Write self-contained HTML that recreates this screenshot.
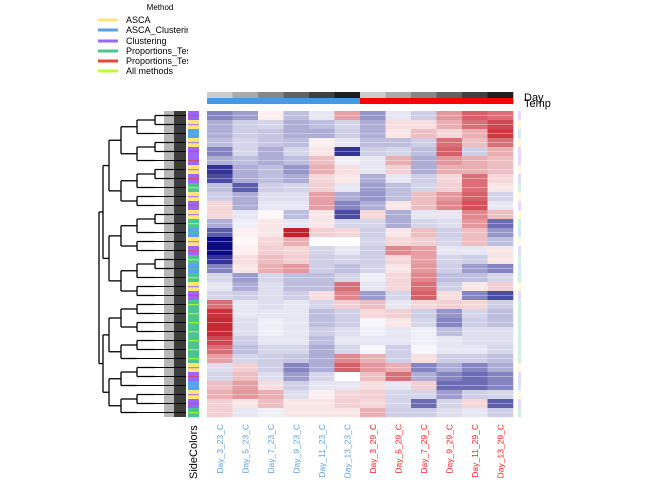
<!DOCTYPE html>
<html><head><meta charset="utf-8">
<style>
body{margin:0;background:#fff;}
svg{display:block;font-family:"Liberation Sans",sans-serif;}
</style></head>
<body>
<svg id="chart" width="672" height="480" viewBox="0 0 672 480" xmlns="http://www.w3.org/2000/svg">
<g id="legend">
<text x="160" y="10" font-size="8" text-anchor="middle">Method</text>
</g>
<g id="topbars"></g>
<text x="524" y="101" font-size="11">Day</text>
<text x="524" y="107" font-size="11">Temp</text>
<g id="dendro"></g>
<g id="side"></g>
<g id="cells"></g>
<g id="faint"></g>
<g id="xlabels"></g>
<text transform="translate(197,479) rotate(-90)" font-size="11">SideColors</text>
</svg>
<script>
const columns=["Day_3_23_C","Day_5_23_C","Day_7_23_C","Day_9_23_C","Day_11_23_C","Day_13_23_C","Day_3_29_C","Day_5_29_C","Day_7_29_C","Day_9_29_C","Day_11_29_C","Day_13_29_C"];
const dayShades=["#cccccc","#aaaaaa","#878787","#626262","#404040","#1e1e1e","#cccccc","#aaaaaa","#878787","#626262","#404040","#1e1e1e"];
const tempGroup=[0,0,0,0,0,0,1,1,1,1,1,1];
const methods=["ASCA","ASCA_Clustering","Clustering","Proportions_Test","Proportions_Test","All methods"];
const methodColors=["#ffe47a","#5aa0f0","#9a66ff","#4cc492","#e8483a","#b8ff2e"];
const sideCat=[2,0,1,0,2,2,0,2,3,0,2,0,3,1,0,2,3,1,3,0,2,3,3,3,3,3,3,3,0,2,1,0,2,3];
const c0=[-1.5,-1,-1,-0.8,-1.5,-1,-2.5,-2.2,-0.8,-0.6,0.5,0.5,-1,-2,-3,-3,-2.5,-1.5,-0.5,-0.3,-0.5,1.8,2.6,2.7,2.7,2.3,1.8,1.2,-0.4,-0.5,0.8,1,0.6,0.6];
const c1=[-1.2,-0.6,-0.6,-0.5,-0.5,-0.8,-1,-1,-2,-1,-1,-0.3,-0.2,0.2,0.1,0.2,0.4,0.3,-1.2,-1,-0.6,-0.3,-0.3,-0.4,-0.4,-0.6,-0.8,-0.5,0.6,0.8,1.2,1.3,0.3,-0.3];
const c2=[0.2,-0.5,-0.7,-0.7,-1,-1,-0.8,-0.8,-0.6,-0.4,-0.3,0.1,0.3,0.3,0.5,0.6,0.8,1,-0.5,-0.4,-0.4,-0.4,-0.3,-0.2,-0.2,-0.3,-0.5,-0.6,-0.6,-0.4,0.4,1,0.8,-0.2];
const c3=[-0.8,-1,-1,-0.8,-0.5,-0.8,-1.3,-1,-0.5,-0.4,-0.3,-0.8,-0.3,2.8,1,0.5,0.6,1.3,-0.8,-0.8,-0.6,-0.3,-0.3,-0.3,-0.3,-0.3,-0.5,-0.7,-1.5,-1.2,-0.6,-0.4,0.3,0.3];
const c4=[-0.3,-0.8,-1,0.2,0.3,0.8,1,0.5,0.6,1.2,1.2,0.3,0.3,0.6,0,-0.5,-0.6,-0.6,-0.8,-0.8,0.4,-0.5,-0.8,-0.8,-0.6,-0.8,-1,-1,-1,-0.5,-0.3,0.2,0.3,0.3];
const c5=[1.2,-0.5,-0.6,-0.3,-2.5,-0.2,0.4,0.3,-0.3,-1,-1.5,-2.2,-0.5,0.5,0,-0.3,-0.5,-0.8,-0.5,1.8,1.5,0.6,-0.6,-0.6,-0.4,-0.3,-0.5,1.5,2,0,-0.3,0.5,0.6,0.3];
const c6=[-1.3,-1,-1,-0.8,-0.6,-0.3,-0.3,-1,-1.2,-1.3,-1,0.5,-0.5,-0.6,-0.5,-0.6,-0.6,-0.5,-0.2,-0.3,-1.2,0.8,0.5,-0.1,-0.2,-0.3,-0.1,1,1.3,0.8,0.4,0.6,0.5,1];
const c7=[-0.3,0.4,0.3,-0.8,-0.5,1,0.6,-0.3,-0.8,-0.8,0.3,-1,-1,0.3,0.5,1.5,0.5,0.3,0.5,0.5,-0.5,-0.3,0.6,0.3,-0.3,-0.3,-0.6,-0.6,1,1.8,-0.3,-0.5,-0.5,-0.6];
const c8=[-0.6,0.4,0.8,-0.6,-0.8,-1,-1,-0.6,-0.5,0.8,0.8,-0.3,-0.5,0.8,0.6,1.2,1.2,1.3,1.5,1.8,2,0.5,-0.6,-0.5,-0.2,-0.2,-0.1,0.4,-1.5,-1,0.6,-0.5,-1.8,-0.6];
const c9=[1.3,1,0.5,1.8,2,1.3,1,0.5,0.6,1.3,1.5,-0.3,-0.4,-0.6,-0.5,-0.3,-0.5,-0.6,-0.8,-0.6,0.4,0.6,-1.3,-1.5,-0.8,-0.3,-0.3,-0.6,-1,-1.5,-1.8,-1.2,-0.5,-0.4];
const c10=[2,1.8,1,0.8,-0.6,1,1,1.8,1.8,2,2.2,1.5,1.3,0.8,0.8,-0.3,-0.6,-1.2,-0.8,0.3,-1.5,0.5,-0.5,-0.6,-0.4,-0.4,-0.3,-0.6,-1.5,-1.8,-1.8,-0.6,0.5,-0.3];
const c11=[1.8,2.3,2.5,1.8,1,0.8,0.8,0.5,0.3,-0.5,-0.3,0.8,-1.8,-1.3,-0.8,0.3,0.3,-1.5,-0.5,0.6,-2.2,-0.6,-0.8,-0.8,-0.4,-0.4,-0.5,-0.8,-1,-1.5,-1.5,-0.5,-2,-0.6];
const values=[c0,c1,c2,c3,c4,c5,c6,c7,c8,c9,c10,c11];

const NS="http://www.w3.org/2000/svg";
function mk(tag,attrs,parent){const e=document.createElementNS(NS,tag);for(const k in attrs)e.setAttribute(k,attrs[k]);parent.appendChild(e);return e;}
const X0=207,X1=513,Y0=111,Y1=417;
const nRows=c0.length;
const colW=(X1-X0)/columns.length, rowH=(Y1-Y0)/nRows;
const xPos=i=>X0+i*colW;
const yPos=r=>Y0+r*rowH;
function color(v){
  const t=Math.min(1,Math.abs(v)/3);
  const end=v<0?[10,10,130]:[192,16,28];
  const c=end.map(e=>Math.round(255+(e-255)*t));
  return `rgb(${c[0]},${c[1]},${c[2]})`;
}
const lg=document.getElementById('legend');
const legendY=[20,30,41,51,61,71];
methods.forEach((m,i)=>{
  const ln=mk('line',{x1:98,x2:118,y1:legendY[i],y2:legendY[i],stroke:methodColors[i],'stroke-width':3},lg);
  
  
  const t=mk('text',{x:126,y:legendY[i]+3,'font-size':9},lg);
  t.textContent=m;
  
  
});
mk('rect',{x:188,y:0,width:30,height:80,fill:'#fff'},lg);
const tb=document.getElementById('topbars');
columns.forEach((c,i)=>{
  const a=mk('rect',{x:xPos(i),y:92,width:colW+0.3,height:6,fill:dayShades[i]},tb);
  
  
  const b=mk('rect',{x:xPos(i),y:98,width:colW+0.3,height:6,fill:tempGroup[i]?'#ff0000':'#4a98e2'},tb);
  
  
});
const cg=document.getElementById('cells');
values.forEach((col,i)=>{
  col.forEach((v,r)=>{
    const rc=mk('rect',{x:xPos(i),y:yPos(r),width:colW+0.3,height:rowH+0.3,fill:color(v)},cg);
    
    
  });
  for(let r=0;r<nRows;r++){
    mk('line',{x1:xPos(i),x2:xPos(i)+colW,y1:yPos(r)+rowH*0.5,y2:yPos(r)+rowH*0.5,stroke:'#fff','stroke-opacity':0.35,'stroke-width':1},cg);
  }
});
const sg=document.getElementById('side');
sideCat.forEach((k,r)=>{
  const s=mk('rect',{x:188,y:yPos(r),width:11,height:rowH+0.3,fill:methodColors[k]},sg);
  
  
  mk('rect',{x:188,y:yPos(r)+rowH*0.45,width:11,height:1.2,fill:methodColors[(k+2)%6],opacity:0.8},sg);
});
const fg=document.getElementById('faint');
sideCat.forEach((k,r)=>{
  mk('rect',{x:518,y:yPos(r),width:3,height:rowH+0.3,fill:methodColors[k],opacity:0.25},fg);
});
const xl=document.getElementById('xlabels');
columns.forEach((c,i)=>{
  const cx=xPos(i)+colW/2+3;
  const t=mk('text',{transform:`translate(${cx},424) rotate(-90)`,'font-size':8.5,'text-anchor':'end',fill:tempGroup[i]?'#ff2020':'#5aa0e6'},xl);
  t.textContent=c;
  
  
});
const dg=document.getElementById('dendro');
mk('rect',{x:174,y:Y0,width:12,height:Y1-Y0,fill:'#1a1a1a',opacity:0.85},dg);
mk('rect',{x:164,y:Y0,width:10,height:Y1-Y0,fill:'#333',opacity:0.35},dg);
const steps=[4,6,12,16,18,18,20];
function build(lo,hi,x,depth){
  if(lo===hi){const y=yPos(lo)+rowH/2;mk('line',{x1:x,x2:186,y1:y,y2:y,stroke:'#000','stroke-width':1},dg);return y;}
  const mid=depth===0?20:Math.floor((lo+hi)/2);
  const nx=Math.min(178,x+(steps[depth]||6));
  const ya=build(lo,mid,nx,depth+1), yb=build(mid+1,hi,nx,depth+1);
  mk('line',{x1:x,x2:x,y1:ya,y2:yb,stroke:'#000','stroke-width':1.3},dg);
  mk('line',{x1:x,x2:nx,y1:ya,y2:ya,stroke:'#000','stroke-width':1.3},dg);
  mk('line',{x1:x,x2:nx,y1:yb,y2:yb,stroke:'#000','stroke-width':1.3},dg);
  return (ya+yb)/2;
}
build(0,nRows-1,99,0);
</script>
</body></html>
